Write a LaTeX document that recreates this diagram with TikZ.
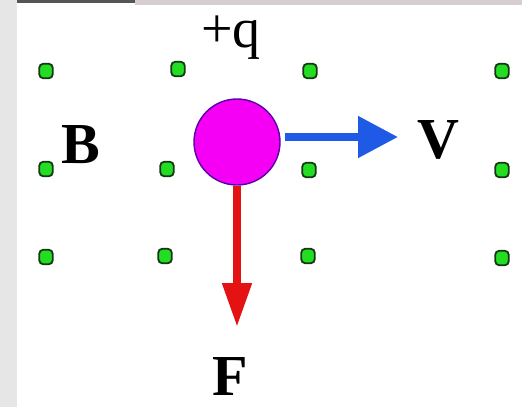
\documentclass[tikz,border=0pt]{standalone}
\usepackage{fontspec}
\setmainfont{Liberation Serif}
\usepackage{tikz}
\usetikzlibrary{arrows.meta,calc}
\definecolor{dotgreen}{RGB}{34,221,34}
\definecolor{dotedge}{RGB}{20,55,20}
\definecolor{qmag}{RGB}{245,0,245}
\definecolor{qedge}{RGB}{90,0,170}
\definecolor{vblue}{RGB}{30,90,230}
\definecolor{fred}{RGB}{228,18,18}
\definecolor{sidegray}{RGB}{230,230,230}
\definecolor{bargray}{RGB}{85,85,85}
\definecolor{barpink}{RGB}{214,206,208}

\begin{document}
\begin{tikzpicture}[x=1pt,y=-1pt,
        bdot/.style={rectangle,rounded corners=4pt,draw=dotedge,fill=dotgreen,line width=1.8pt,minimum width=13.5pt,minimum height=14.5pt,inner sep=0pt},
        charge/.style={circle,draw=qedge,fill=qmag,line width=1.4pt,minimum size=86pt,inner sep=0pt},
        lbl/.style={inner sep=0pt,anchor=base,font=\fontsize{58}{60}\selectfont\bfseries},
        qlbl/.style={inner sep=0pt,anchor=base,font=\fontsize{56}{58}\selectfont},
        varr/.style={draw=vblue,line width=8pt,-{Triangle[length=40pt,width=40pt]},vblue},
        farr/.style={draw=fred,line width=8pt,-{Triangle[length=44pt,width=28pt]},fred}]
        \useasboundingbox (0,0) rectangle (522,407);
        % frame bits of the slide
        \fill[sidegray] (0,0) rectangle (17,407);
        \fill[barpink] (135,0) rectangle (522,5);
        \fill[bargray] (17,0) rectangle (135,2.5);
        % field points (B out of the page)
        \foreach \i/\x/\y in {1/46/71,2/178/69,3/310/71,4/502/71,
                              5/46/169,6/167/169,7/309/170,8/502/170,
                              9/46/257,10/165/256,11/308/256,12/502/258}
          {\node[bdot](d\i) at (\x,\y){};}
        \node[charge](q) at (237,142){};
        \coordinate (vtip) at (398,137);
        \coordinate (ftip) at (237,327);
        \draw[varr,shorten <=4pt](q.east |- vtip) -- (vtip);
        \draw[farr](q.south) -- (ftip);
        \node[qlbl](lq) at (231,47){+q};
        \node[lbl](lb) at (81,163){B};
        \node[lbl](lv) at (438,158){V};
        \node[lbl](lf) at (230,395){F};
      \end{tikzpicture}
\end{document}
